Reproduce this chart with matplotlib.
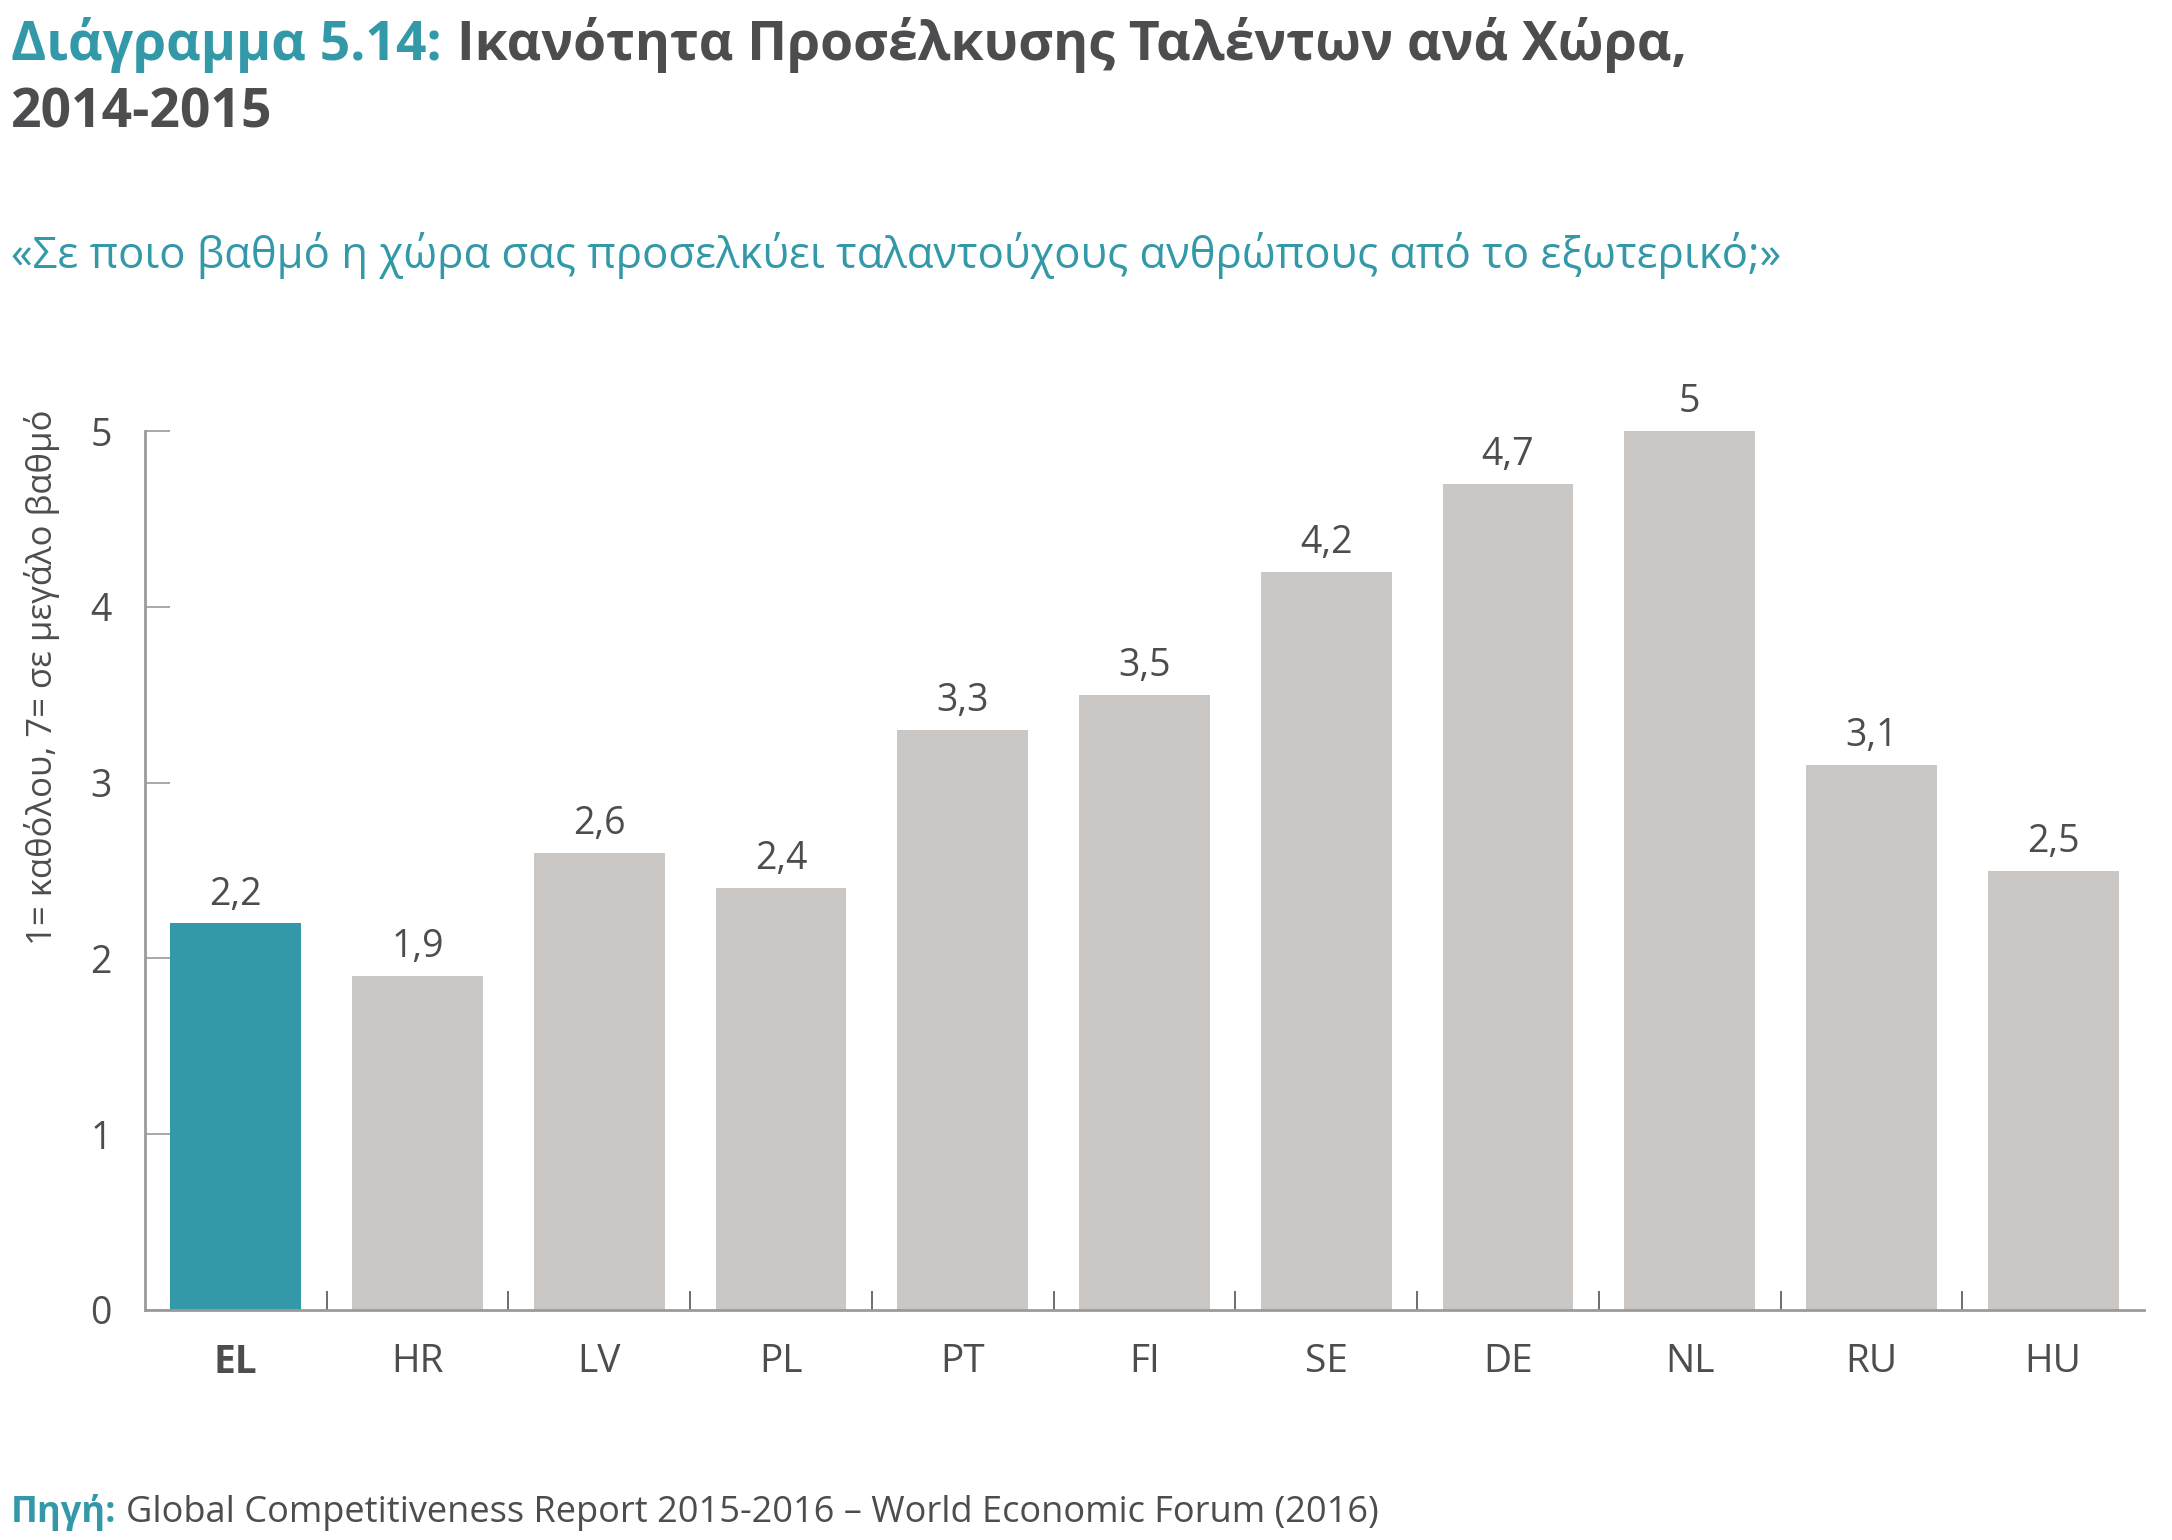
import numpy as np
import matplotlib.pyplot as plt

# data
countries = ['EL', 'HR', 'LV', 'PL', 'PT', 'FI', 'SE', 'DE', 'NL', 'RU', 'HU']
scores = [2.2, 1.9, 2.6, 2.4, 3.3, 3.5, 4.2, 4.7, 5.0, 3.1, 2.5]
highlight = 'EL'
yticks = [0, 1, 2, 3, 4, 5]

TEAL = '#3399a8'
GREY_BAR = '#cbc7c4'
TXT = '#4d4d4f'
AX = '#9a9a9a'

plt.rcParams['font.family'] = ['Open Sans', 'DejaVu Sans']

W, H = 2172, 1540
fig = plt.figure(figsize=(W / 100, H / 100), dpi=100)
ax = fig.add_axes([145 / W, 1 - 1310 / H, (2144 - 145) / W, (1310 - 431) / H])

x = np.arange(len(countries))
colors = [TEAL if c == highlight else GREY_BAR for c in countries]
bars = ax.bar(x, scores, width=0.72, color=colors, zorder=2)

#value labels above bars
for xi, v in zip(x, scores):
    lbl = ('%g' % v).replace('.', ',')
    ax.annotate(lbl, (xi, v), xytext=(0, 7), textcoords='offset points',
                ha='center', va='bottom', fontsize=27, color=TXT)

ax.set_xlim(-0.5, len(countries) - 0.5)
ax.set_ylim(0, 5)
ax.set_yticks(yticks)
ax.set_yticklabels([str(t) for t in yticks], fontsize=27, color=TXT)
ax.tick_params(axis='y', direction='in', length=18, width=1.2, color=AX, pad=24)

# x ticks sit between categories, labels at centres
ax.set_xticks(x[:-1] + 0.5)
ax.set_xticklabels([])
ax.tick_params(axis='x', direction='in', length=14, width=1.2, color='#555555')
ax.set_xticks(x, minor=True)
ax.set_xticklabels(countries, minor=True, fontsize=28, color=TXT)
ax.tick_params(axis='x', which='minor', length=0, pad=24)
for lab in ax.get_xticklabels(minor=True):
    if lab.get_text() == highlight:
        lab.set_fontweight('bold')

for s in ['top', 'right']:
    ax.spines[s].set_visible(False)
for s in ['left', 'bottom']:
    ax.spines[s].set_color(AX)
    ax.spines[s].set_linewidth(2)

fig.text(42 / W, 1 - 410 / H, '1= καθόλου, 7= σε μεγάλο βαθμό', rotation=90,
         ha='center', va='top', fontsize=25, color=TXT)

#title, two colours on first line
r = fig.canvas.get_renderer()
t1 = fig.text(11 / W, 1 - 60 / H, 'Διάγραμμα 5.14:', fontsize=38.5, fontweight='bold',
              color=TEAL, va='baseline')
bb = t1.get_window_extent(r)
fig.text((bb.x1 + 15) / W, 1 - 60 / H, 'Ικανότητα Προσέλκυσης Ταλέντων ανά Χώρα,',
         fontsize=38.5, fontweight='bold', color=TXT, va='baseline')
fig.text(11 / W, 1 - 128 / H, '2014-2015', fontsize=38.5, fontweight='bold',
         color=TXT, va='baseline')

fig.text(11 / W, 1 - 268 / H,
         '«Σε ποιο βαθμό η χώρα σας προσελκύει ταλαντούχους ανθρώπους από το εξωτερικό;»',
         fontsize=31.5, color=TEAL, va='baseline')

#source line
s1 = fig.text(11 / W, 1 - 1522 / H, 'Πηγή:', fontsize=26, fontweight='bold',
              color=TEAL, va='baseline')
bb = s1.get_window_extent(r)
fig.text((bb.x1 + 9) / W, 1 - 1522 / H,
         'Global Competitiveness Report 2015-2016 – World Economic Forum (2016)',
         fontsize=26, color=TXT, va='baseline')

fig.savefig('out.png', dpi=100)
